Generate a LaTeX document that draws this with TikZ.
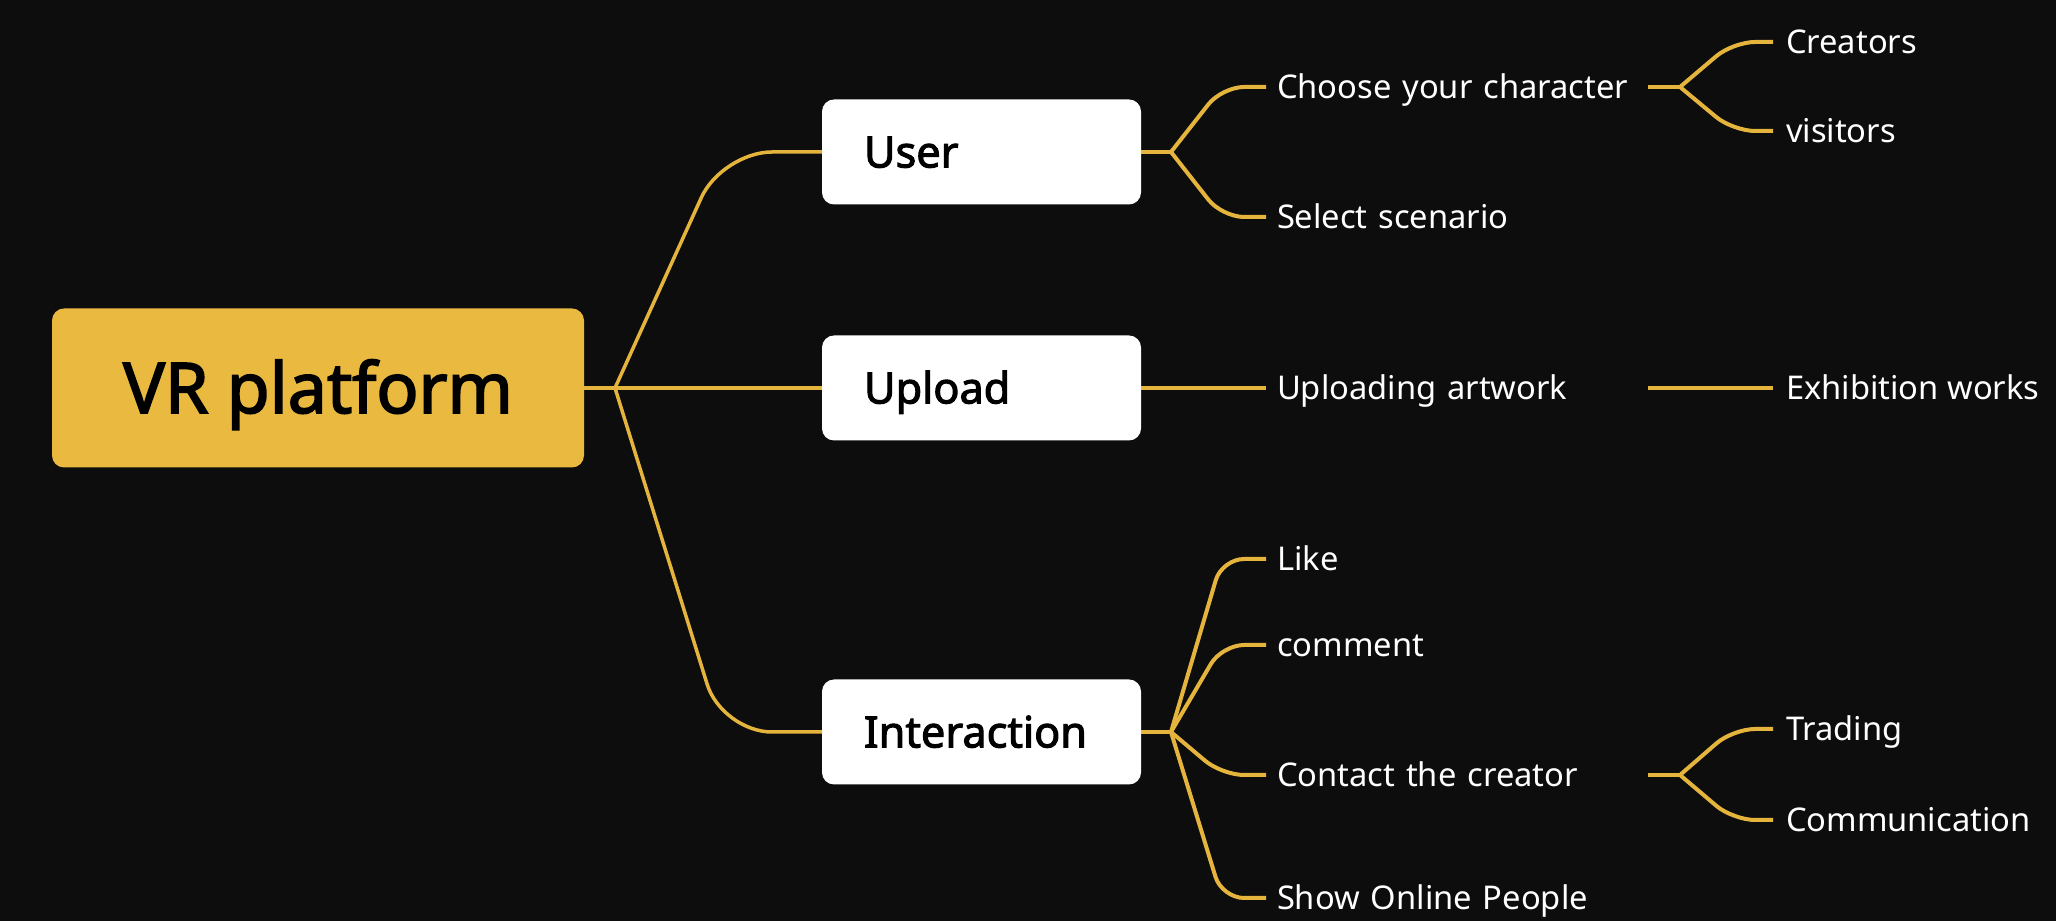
\documentclass[tikz,border=0pt]{standalone}
\usepackage{fontspec}
\setmainfont{Noto Sans}
\newfontfamily\topicfont[FakeBold=2.4]{Noto Sans}
\definecolor{canvas}{HTML}{0D0D0D}
\definecolor{gold}{HTML}{E9B940}
\definecolor{goldline}{HTML}{E5B43C}

\begin{document}
\begin{tikzpicture}[
    x=0.1mm, y=-0.1mm,
    every node/.style={inner sep=0pt, outer sep=0pt},
    root/.style={fill=gold, rounded corners=1.2mm, minimum width=53.2mm, minimum height=15.9mm,
        text height=6.2mm, text depth=1.2mm, text=black, font=\topicfont\fontsize{19.9}{21}\selectfont},
    topic/.style={anchor=west, fill=white, rounded corners=1.2mm, minimum height=10.5mm,
        text width=23.5mm, inner xsep=4.2mm, align=left, text height=3.9mm, text depth=0.81mm,
        text=black, font=\topicfont\fontsize{12.3}{14}\selectfont},
    leaf/.style={anchor=west, text width=36mm, inner xsep=1.1mm, align=left,
        text height=2.9mm, text depth=0.56mm, text=white, font=\fontsize{9.3}{11}\selectfont},
    tip/.style={anchor=west, inner xsep=1.3mm, text height=2.9mm, text depth=0.56mm,
        text=white, font=\fontsize{9.3}{11}\selectfont},
    trunk/.style={draw=goldline, line width=0.35mm, rounded corners=5mm},
    link/.style={draw=goldline, line width=0.4mm, rounded corners=2.2mm}
]
\path[use as bounding box, fill=canvas] (0,0) rectangle (2056,921);

\node[root] (vr) at (318,388) {VR platform};

\node[topic] (user) at (822,152) {User};
\node[topic] (upload) at (822,388) {Upload};
\node[topic] (inter) at (822,732) {Interaction};

\node[leaf] (choose) at (1266,87) {Choose your character};
\node[leaf] (scene) at (1266,217) {Select scenario};
\node[leaf] (artwork) at (1266,388) {Uploading artwork};
\node[leaf] (like) at (1266,559) {Like};
\node[leaf] (comment) at (1266,645) {comment};
\node[leaf] (contact) at (1266,775) {Contact the creator};
\node[leaf] (online) at (1266,898) {Show Online People};

\node[tip] (creators) at (1773,42) {Creators};
\node[tip] (visitors) at (1773,131) {visitors};
\node[tip] (exhibit) at (1773,388) {Exhibition works};
\node[tip] (trading) at (1773,729) {Trading};
\node[tip] (commun) at (1773,820) {Communication};

\coordinate (j0) at ([xshift=3.1mm]vr.east);
\coordinate (j1) at ([xshift=3mm]user.east);
\coordinate (j3) at ([xshift=3mm]inter.east);
\coordinate (jc) at ([xshift=3.2mm]choose.east);
\coordinate (jt) at ([xshift=3.2mm]contact.east);

\draw[trunk] (vr.east) -- (j0);
\foreach \t in {user,upload,inter}
    \draw[trunk] (j0) -- ([xshift=-10mm]\t.west) -- (\t.west);

\draw[link] (user.east) -- (j1);
\draw[link] (inter.east) -- (j3);
\foreach \l in {choose,scene}
    \draw[link] (j1) -- ([xshift=-4.4mm]\l.west) -- (\l.west);
\foreach \l in {like,comment,contact,online}
    \draw[link] (j3) -- ([xshift=-4.4mm]\l.west) -- (\l.west);
\draw[link] (upload.east) -- (artwork.west);

\draw[link] (choose.east) -- (jc);
\draw[link] (contact.east) -- (jt);
\foreach \l in {creators,visitors}
    \draw[link] (jc) -- ([xshift=-4mm]\l.west) -- (\l.west);
\foreach \l in {trading,commun}
    \draw[link] (jt) -- ([xshift=-4mm]\l.west) -- (\l.west);
\draw[link] (artwork.east) -- (exhibit.west);
\end{tikzpicture}
\end{document}
